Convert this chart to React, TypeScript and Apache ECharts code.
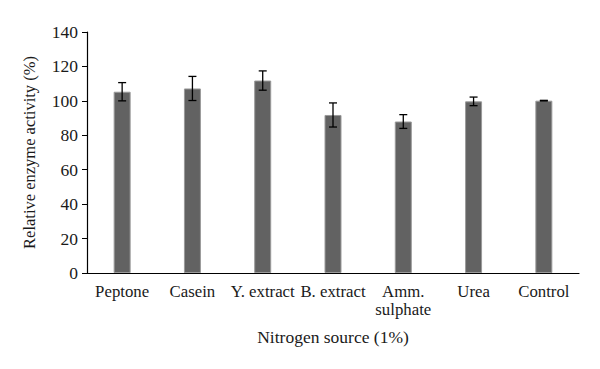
import React, { useEffect, useRef } from "react";
import * as echarts from "echarts";

const categories = ["Peptone", "Casein", "Y. extract", "B. extract", "Amm.\nsulphate", "Urea", "Control"];
const values = [105.3, 107.2, 111.8, 91.8, 88.0, 99.7, 100.1];
const errors = [5.3, 7.0, 5.6, 7.0, 4.0, 2.5, 0.2];
const yTicks = { min: 0, max: 140, interval: 20 };

const FONT = "'Liberation Serif', 'DejaVu Serif', serif";

export default function App() {
  const ref = useRef<HTMLDivElement>(null);
  useEffect(() => {
    if (!ref.current) return;
    const chart = echarts.init(ref.current, undefined, { renderer: "svg" });
    const errData = values.map((v, i) => [i, v - errors[i], v + errors[i]]);
    chart.setOption({
      animation: false,
      backgroundColor: "#ffffff",
      grid: { left: 87, right: 21, top: 32, bottom: 96 },
      xAxis: {
        type: "category",
        data: categories,
        name: "Nitrogen source (1%)",
        nameLocation: "middle",
        nameGap: 55,
        nameTextStyle: { fontFamily: FONT, fontSize: 17.5, color: "#1a1a1a" },
        axisLine: { lineStyle: { color: "#000", width: 1.2 } },
        axisTick: { show: false },
        axisLabel: { fontFamily: FONT, fontSize: 16.8, color: "#1a1a1a", margin: 9, lineHeight: 18, interval: 0 },
      },
      yAxis: {
        type: "value",
        min: yTicks.min,
        max: yTicks.max,
        interval: yTicks.interval,
        name: "Relative enzyme activity (%)",
        nameLocation: "middle",
        nameGap: 49,
        nameTextStyle: { fontFamily: FONT, fontSize: 16.5, color: "#1a1a1a" },
        axisLine: { show: true, lineStyle: { color: "#000", width: 1.2 } },
        axisTick: { show: true, length: 5, lineStyle: { color: "#000" } },
        axisLabel: { fontFamily: FONT, fontSize: 17.5, color: "#1a1a1a", margin: 9 },
        splitLine: { show: false },
      },
      series: [
        {
          type: "bar",
          data: values,
          barWidth: 17,
          itemStyle: { color: "#626262", borderColor: "#9a9a9a", borderWidth: 1 },
        },
        {
          type: "custom",
          data: errData,
          z: 10,
          renderItem: (params: any, api: any) => {
            const x = api.value(0);
            const lo = api.coord([x, api.value(1)]);
            const hi = api.coord([x, api.value(2)]);
            const cap = 4;
            const style = { stroke: "#000", lineWidth: 1.3 };
            return {
              type: "group",
              children: [
                { type: "line", shape: { x1: lo[0], y1: lo[1], x2: hi[0], y2: hi[1] }, style },
                { type: "line", shape: { x1: hi[0] - cap, y1: hi[1], x2: hi[0] + cap, y2: hi[1] }, style },
                { type: "line", shape: { x1: lo[0] - cap, y1: lo[1], x2: lo[0] + cap, y2: lo[1] }, style },
              ],
            };
          },
        },
      ],
    });
    return () => chart.dispose();
  }, []);
  return <div ref={ref} style={{ width: 600, height: 369, position: "absolute", left: 0, top: 0 }} />;
}
